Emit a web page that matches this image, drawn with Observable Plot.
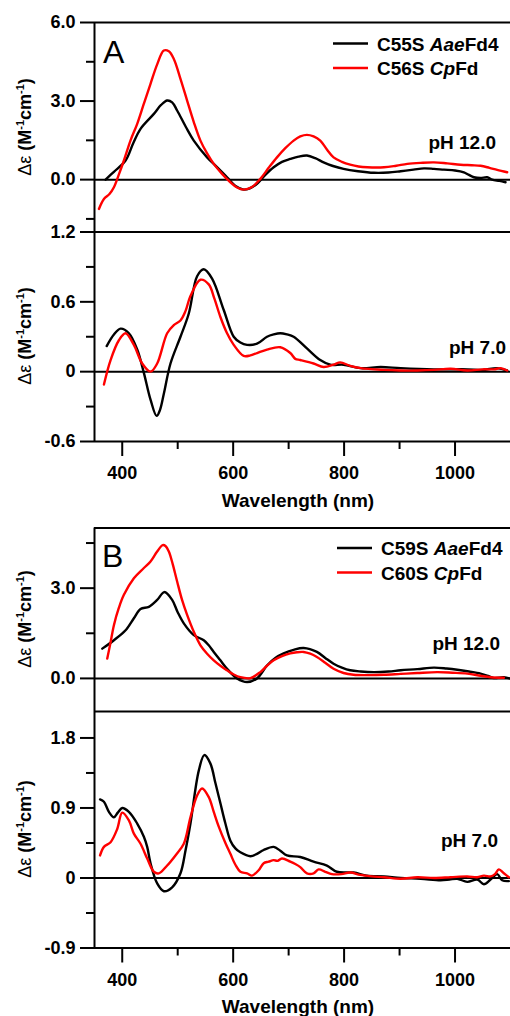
<!DOCTYPE html>
<html>
<head>
<meta charset="utf-8">
<script src="https://cdn.jsdelivr.net/npm/d3@7"></script>
<script src="https://cdn.jsdelivr.net/npm/@observablehq/plot@0.6"></script>
<style>
  html, body { margin: 0; padding: 0; background: #fff; overflow: hidden; }
  #wrap { position: relative; width: 510px; height: 1016px; }
  #wrap svg { position: absolute; left: 0; top: 0; }
  #wrap [aria-label^="y-axis tick"] path, #wrap [aria-label^="x-axis tick"] path { stroke-width: 2px; }
</style>
</head>
<body>
<div id="wrap"></div>
<script>
// ---------- data: [wavelength (nm), Δε (M^-1 cm^-1)] ----------
const A_pH12_Aae = [[370,0.0],[385,0.3],[406,0.73],[420,1.4],[433,1.94],[457,2.51],[470,2.85],[481,3.02],[490,2.95],[499,2.64],[515,2.0],[529,1.49],[553,0.85],[570,0.5],[589,0.09],[605,-0.25],[619,-0.38],[630,-0.33],[643,-0.16],[658,0.18],[673,0.47],[688,0.68],[703,0.79],[718,0.88],[733,0.92],[748,0.82],[763,0.66],[780,0.52],[799,0.41],[825,0.32],[854,0.26],[880,0.27],[902,0.32],[925,0.38],[944,0.43],[962,0.41],[980,0.38],[1000,0.35],[1016,0.28],[1025,0.18],[1034,0.09],[1046,0.06],[1058,0.09],[1067,0.0],[1080,-0.05],[1091,-0.1]];
const A_pH12_Cp = [[358,-1.12],[367,-0.74],[377,-0.55],[385,-0.29],[394,0.2],[403,0.73],[415,1.5],[427,2.13],[439,2.9],[451,3.66],[463,4.4],[475,4.93],[484,4.9],[493,4.61],[505,3.85],[517,3.02],[529,2.2],[541,1.49],[553,1.0],[565,0.6],[580,0.22],[595,-0.1],[607,-0.3],[619,-0.38],[634,-0.28],[649,0.03],[664,0.45],[679,0.85],[694,1.2],[709,1.49],[721,1.65],[733,1.71],[745,1.65],[757,1.49],[769,1.15],[781,0.85],[796,0.68],[811,0.57],[826,0.5],[842,0.47],[872,0.47],[894,0.53],[914,0.6],[938,0.64],[962,0.66],[986,0.62],[1010,0.57],[1030,0.55],[1046,0.53],[1062,0.45],[1076,0.37],[1094,0.28]];
const A_pH7_Aae = [[372,0.22],[385,0.32],[397,0.37],[412,0.33],[427,0.19],[439,-0.01],[451,-0.24],[462,-0.38],[468,-0.33],[475,-0.19],[487,0.07],[505,0.30],[520,0.50],[535,0.82],[547,0.88],[562,0.80],[583,0.53],[601,0.30],[613,0.25],[625,0.23],[643,0.24],[661,0.30],[673,0.32],[685,0.33],[697,0.32],[709,0.30],[733,0.20],[757,0.10],[775,0.06],[799,0.06],[830,0.03],[866,0.04],[902,0.03],[962,0.02],[1022,0.02],[1050,0.015],[1076,0.03],[1094,0.01]];
const A_pH7_Cp = [[367,-0.11],[379,0.10],[394,0.27],[406,0.33],[421,0.23],[436,0.07],[451,0.0],[463,0.07],[481,0.33],[493,0.40],[505,0.44],[514,0.52],[523,0.65],[541,0.79],[556,0.75],[566,0.63],[577,0.47],[589,0.33],[601,0.23],[619,0.135],[631,0.14],[643,0.16],[661,0.19],[685,0.21],[703,0.16],[712,0.11],[721,0.10],[745,0.07],[763,0.04],[781,0.06],[793,0.08],[811,0.05],[830,0.03],[872,0.015],[902,0.01],[932,0.01],[962,0.015],[992,0.025],[1022,0.01],[1050,0.02],[1070,0.02],[1082,0.03],[1094,0.01]];
const B_pH12_Aae = [[364,0.99],[385,1.27],[406,1.6],[421,2.0],[433,2.31],[448,2.38],[463,2.61],[476,2.87],[490,2.61],[500,2.2],[511,1.83],[529,1.44],[547,1.27],[556,1.1],[565,0.88],[577,0.6],[589,0.32],[607,0.0],[625,-0.12],[643,0.0],[661,0.43],[676,0.68],[691,0.83],[709,0.95],[727,1.01],[751,0.88],[766,0.68],[781,0.49],[796,0.36],[811,0.27],[830,0.23],[854,0.21],[880,0.23],[902,0.27],[932,0.31],[962,0.36],[985,0.33],[1004,0.29],[1025,0.23],[1046,0.16],[1060,0.08],[1070,0.01],[1088,0.04],[1098,0.0]];
const B_pH12_Cp = [[373,0.66],[379,1.2],[385,1.77],[394,2.35],[403,2.78],[421,3.33],[439,3.67],[451,3.89],[463,4.22],[473,4.43],[478,4.4],[484,4.22],[491,3.8],[499,3.22],[508,2.6],[517,2.11],[529,1.55],[541,1.10],[553,0.82],[565,0.60],[577,0.42],[589,0.27],[601,0.13],[613,0.04],[631,0.01],[649,0.21],[661,0.42],[673,0.6],[688,0.74],[703,0.83],[715,0.87],[727,0.88],[739,0.82],[751,0.71],[766,0.52],[781,0.32],[799,0.18],[817,0.12],[845,0.11],[872,0.12],[902,0.15],[932,0.18],[968,0.21],[995,0.19],[1022,0.16],[1046,0.09],[1064,0.04],[1088,0.02]];
const B_pH7_Aae = [[360,1.01],[367,0.98],[376,0.85],[385,0.78],[392,0.84],[400,0.90],[412,0.85],[427,0.70],[439,0.53],[445,0.40],[451,0.19],[463,-0.07],[475,-0.17],[490,-0.12],[505,0.06],[514,0.35],[523,0.70],[538,1.38],[548,1.58],[559,1.47],[568,1.22],[577,0.96],[586,0.7],[595,0.48],[604,0.38],[613,0.33],[631,0.28],[643,0.31],[655,0.36],[673,0.40],[685,0.35],[697,0.29],[721,0.27],[745,0.21],[769,0.16],[787,0.08],[817,0.07],[841,0.03],[872,0.02],[902,0.0],[938,-0.01],[974,-0.03],[990,-0.02],[1004,-0.01],[1022,-0.05],[1040,-0.02],[1052,-0.08],[1064,-0.02],[1076,0.05],[1085,-0.03],[1097,-0.04]];
const B_pH7_Cp = [[360,0.29],[367,0.40],[379,0.46],[391,0.63],[400,0.84],[412,0.74],[421,0.57],[433,0.44],[445,0.25],[457,0.08],[466,0.06],[481,0.16],[496,0.29],[511,0.44],[523,0.78],[535,1.06],[544,1.15],[556,1.04],[565,0.85],[574,0.66],[586,0.45],[595,0.31],[604,0.17],[613,0.08],[625,0.06],[634,0.03],[646,0.10],[655,0.19],[664,0.21],[673,0.23],[680,0.22],[688,0.25],[703,0.21],[712,0.18],[721,0.14],[733,0.06],[745,0.06],[754,0.11],[766,0.08],[778,0.05],[795,0.05],[811,0.07],[829,0.04],[850,0.02],[872,0.01],[902,-0.01],[932,0.01],[962,0.0],[992,0.01],[1022,0.02],[1040,0.01],[1052,0.03],[1064,0.02],[1072,0.05],[1079,0.11],[1088,0.06],[1097,0.01]];

// ticks / labels
const xMajor = [400, 600, 800, 1000];
const xMinor = [500, 700, 900];
const xDomain = [350, 1100];
const A12_major = [0, 3, 6], A12_minor = [-1.5, 1.5, 4.5], A12_domain = [-2, 6];
const A7_major = [-0.6, 0, 0.6, 1.2], A7_minor = [-0.3, 0.3, 0.9], A7_domain = [-0.6, 1.2];
const B12_major = [0, 3], B12_minor = [1.5, 4.5], B12_domain = [-1.1, 5];
const B7_major = [-0.9, 0, 0.9, 1.8], B7_minor = [-0.45, 0.45, 1.35], B7_domain = [-0.9, 2.14];
const legendA = [["C55S ", "Aae", "Fd4"], ["C56S ", "Cp", "Fd"]];
const legendB = [["C59S ", "Aae", "Fd4"], ["C60S ", "Cp", "Fd"]];
const phLabels = ["pH 12.0", "pH 7.0"];
const xLabel = "Wavelength (nm)";
const colors = ["#000000", "#ff0000"];

const W = 510, H = 1016, FONT = "'Liberation Sans', Arial, sans-serif";
const wrap = document.getElementById("wrap");
const baseStyle = {background: "transparent", fontFamily: FONT, fontSize: "18px", fontWeight: "bold", color: "black", overflow: "visible"};

function sub({top, bottom, domain, major, minor, fmt, xaxis, series, drawTop}) {
  const marks = [
    Plot.ruleY([0], {stroke: "black", strokeWidth: 2}),
    Plot.ruleY([domain[0]], {stroke: "black", strokeWidth: 2}),
    Plot.ruleX([xDomain[0]], {stroke: "black", strokeWidth: 2})
  ];
  if (drawTop) marks.push(Plot.ruleY([domain[1]], {stroke: "black", strokeWidth: 2}));
  series.forEach((s, i) => marks.push(Plot.line(s, {x: d => d[0], y: d => d[1], stroke: colors[i], strokeWidth: 2.4, curve: "catmull-rom"})));
  const margins = {marginLeft: 94, marginRight: 0, marginTop: top, marginBottom: H - bottom};
  const xOpt = xaxis
    ? {domain: xDomain, ticks: xMajor, tickSize: 15, tickPadding: 10, tickFormat: d => String(d), label: null}
    : {domain: xDomain, axis: null};
  const svg = Plot.plot({
    width: W, height: H, ...margins,
    x: xOpt,
    y: {domain, ticks: major, tickSize: 14, tickPadding: 5, tickFormat: fmt, label: null},
    style: baseStyle,
    marks
  });
  wrap.appendChild(svg);
  // minor ticks overlay
  const xOptMinor = xaxis
    ? {domain: xDomain, ticks: xMinor, tickSize: 8, tickFormat: () => "", label: null}
    : {domain: xDomain, axis: null};
  const minorSvg = Plot.plot({
    width: W, height: H, ...margins,
    x: xOptMinor,
    y: {domain, ticks: minor, tickSize: 8, tickFormat: () => "", label: null},
    style: baseStyle,
    marks: [Plot.dot([[xDomain[0], domain[0]]], {x: d => d[0], y: d => d[1], r: 0, stroke: "none"})]
  });
  wrap.appendChild(minorSvg);
  return svg;
}

const f1 = v => v.toFixed(1);
const f0 = v => v === 0 ? "0" : v.toFixed(1);

const s1 = sub({top: 22, bottom: 231.5, domain: A12_domain, major: A12_major, minor: A12_minor, fmt: f1, xaxis: false, series: [A_pH12_Aae, A_pH12_Cp], drawTop: true});
const s2 = sub({top: 231.5, bottom: 441, domain: A7_domain, major: A7_major, minor: A7_minor, fmt: f0, xaxis: true, series: [A_pH7_Aae, A_pH7_Cp], drawTop: false});
const s3 = sub({top: 527.5, bottom: 711, domain: B12_domain, major: B12_major, minor: B12_minor, fmt: f1, xaxis: false, series: [B_pH12_Aae, B_pH12_Cp], drawTop: true});
const s4 = sub({top: 711, bottom: 947.5, domain: B7_domain, major: B7_major, minor: B7_minor, fmt: f0, xaxis: true, series: [B_pH7_Aae, B_pH7_Cp], drawTop: false});

// ---------- annotations ----------
function ylabel(svg, cy) {
  const t = d3.select(svg).append("text")
    .attr("transform", `translate(31,${cy}) rotate(-90)`)
    .attr("text-anchor", "middle").attr("font-size", 18).attr("font-family", FONT).attr("fill", "black");
  t.append("tspan").attr("font-weight", "normal").text("Δε ");
  t.append("tspan").attr("font-weight", "bold").text("(M");
  t.append("tspan").attr("font-weight", "bold").attr("font-size", 11).attr("dy", -7).text("-1");
  t.append("tspan").attr("font-weight", "bold").attr("dy", 7).text("cm");
  t.append("tspan").attr("font-weight", "bold").attr("font-size", 11).attr("dy", -7).text("-1");
  t.append("tspan").attr("font-weight", "bold").attr("dy", 7).text(")");
}
function plain(svg, x, y, str, opts = {}) {
  d3.select(svg).append("text").attr("x", x).attr("y", y)
    .attr("text-anchor", opts.anchor || "start")
    .attr("font-size", opts.size || 19).attr("font-weight", opts.weight || "bold")
    .attr("font-family", FONT).attr("fill", "black").text(str);
}
function legend(svg, x0, y0, entries) {
  const g = d3.select(svg).append("g");
  entries.forEach((e, i) => {
    const y = y0 + i * 24.5;
    g.append("line").attr("x1", x0).attr("x2", x0 + 35).attr("y1", y).attr("y2", y)
      .attr("stroke", colors[i]).attr("stroke-width", 2.4);
    const t = g.append("text").attr("x", x0 + 44).attr("y", y + 7).attr("font-size", 19)
      .attr("text-anchor", "start")
      .attr("font-weight", "bold").attr("font-family", FONT).attr("fill", "black");
    t.append("tspan").text(e[0]);
    t.append("tspan").attr("font-style", "italic").text(e[1]);
    t.append("tspan").text(e[2]);
  });
}

ylabel(s1, 127); ylabel(s2, 336); ylabel(s3, 619); ylabel(s4, 829);
plain(s1, 103, 63, "A", {size: 32, weight: "normal"});
plain(s3, 102, 567, "B", {size: 32, weight: "normal"});
legend(s1, 333, 43.5, legendA);
legend(s3, 337, 548, legendB);
plain(s1, 496, 149, phLabels[0], {anchor: "end"});
plain(s2, 506, 354, phLabels[1], {anchor: "end"});
plain(s3, 500, 650, phLabels[0], {anchor: "end"});
plain(s4, 498, 847, phLabels[1], {anchor: "end"});
plain(s2, 298, 507, xLabel, {anchor: "middle"});
plain(s4, 298, 1013, xLabel, {anchor: "middle"});
</script>
</body>
</html>
